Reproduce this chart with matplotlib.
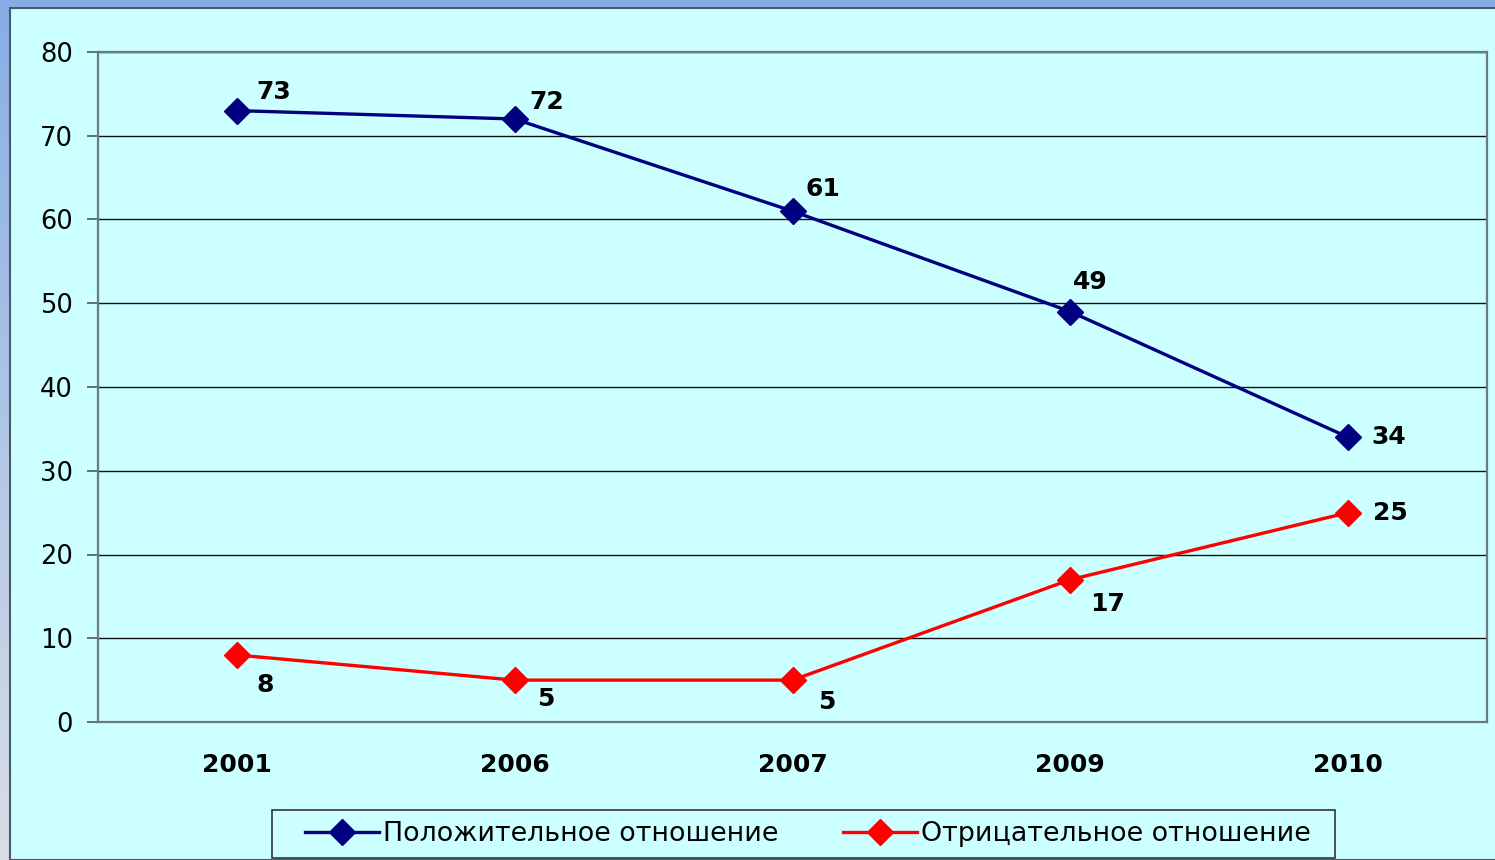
"""Отношение к явлению по годам: положительное vs отрицательное."""

import matplotlib
matplotlib.use("Agg")
import matplotlib.pyplot as plt
import numpy as np
from matplotlib.patches import Rectangle

years = ["2001", "2006", "2007", "2009", "2010"]
positive = [73, 72, 61, 49, 34]
negative = [8, 5, 5, 17, 25]
pos_label = "Положительное отношение"
neg_label = "Отрицательное отношение"

# смещения подписей значений в пикселях (dx, dy)
pos_offsets = [(37, 19), (32, 17), (30, 22), (20, 30), (41, 0)]
neg_offsets = [(28, -30), (31, -19), (34, -22), (37, -24), (42, 0)]

BG = "#CCFFFF"
NAVY = "#000080"
RED = "#FF0000"

plt.rcParams["font.family"] = ["DejaVu Sans"]

W, H = 1495, 860
fig = plt.figure(figsize=(W / 100, H / 100), dpi=100)

# рамка слайда: синий градиент сверху и слева
bg_ax = fig.add_axes([0, 0, 1, 1])
bg_ax.set_axis_off()
grad = np.linspace(0, 1, 256).reshape(-1, 1)
top_col = np.array([0.53, 0.68, 0.90])
bot_col = np.array([0.85, 0.87, 0.90])
img = top_col + (bot_col - top_col) * grad[:, :, None]
bg_ax.imshow(img, aspect="auto", extent=[0, 1, 0, 1], origin="upper")
bg_ax.add_patch(Rectangle((10 / W, 0), 1, 1 - 8 / H, facecolor=BG,
                          edgecolor="#4a5a6a", linewidth=1.5))
# рамка легенды
bg_ax.add_patch(Rectangle((272 / W, 1 - 858 / H), (1335 - 272) / W, 48 / H,
                          facecolor=BG, edgecolor="#333333", linewidth=1.2))
bg_ax.set_xlim(0, 1)
bg_ax.set_ylim(0, 1)

ax = fig.add_axes([98 / W, 1 - 722 / H, (1487 - 98) / W, (722 - 52) / H])
ax.set_facecolor(BG)
x = np.arange(len(years))

ax.plot(x, positive, color=NAVY, lw=2.4, marker="D", ms=13, label=pos_label, zorder=3)
ax.plot(x, negative, color=RED, lw=2.4, marker="D", ms=13, label=neg_label, zorder=3)

for xi, v, (dx, dy) in zip(x, positive, pos_offsets):
    ax.annotate(str(v), (xi, v), xytext=(dx, dy), textcoords="offset pixels",
                ha="center", va="center", fontsize=18, fontweight="bold")
for xi, v, (dx, dy) in zip(x, negative, neg_offsets):
    ax.annotate(str(v), (xi, v), xytext=(dx, dy), textcoords="offset pixels",
                ha="center", va="center", fontsize=18, fontweight="bold")

ax.set_xlim(-0.5, len(years) - 0.5)
ax.set_ylim(0, 80)
ax.set_yticks(range(0, 81, 10))
ax.set_xticks(x)
ax.set_xticklabels(years, fontsize=18, fontweight="bold")
ax.tick_params(axis="x", length=0, pad=22)
ax.tick_params(axis="y", length=8, width=1.2, color="#555555", labelsize=18.5, pad=10)
ax.grid(axis="y", color="#111111", linewidth=1.0)
ax.set_axisbelow(True)
for side in ("left", "bottom", "right", "top"):
    ax.spines[side].set_color("#6a7a80")
    ax.spines[side].set_linewidth(1.6)

leg = fig.legend(loc="center", bbox_to_anchor=(808 / W, 1 - 834 / H), ncol=2,
                 fontsize=19.4, frameon=False, handlelength=2.75,
                 columnspacing=2.4, borderpad=0.4, handletextpad=0.15)

fig.savefig("out.png", dpi=100, facecolor=fig.get_facecolor())
